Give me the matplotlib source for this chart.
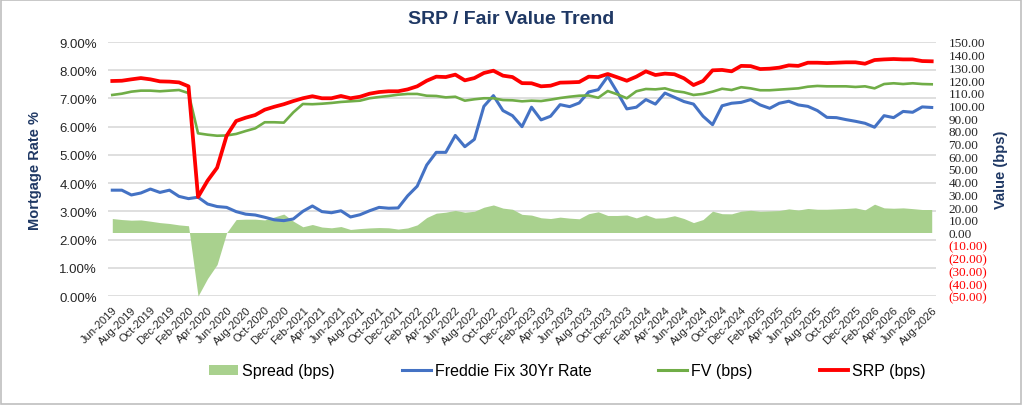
import matplotlib
matplotlib.use('Agg')
import matplotlib.pyplot as plt
from matplotlib.patches import Rectangle, Patch
from matplotlib.lines import Line2D
import pandas as pd

plt.rcParams['font.family'] = ['Liberation Sans', 'DejaVu Sans']

# monthly categories Jun-2019 .. Aug-2026
months = pd.date_range('2019-06-01', periods=87, freq='MS').strftime('%b-%Y').tolist()

# SRP (bps), right axis
srp = [119.3, 119.5, 120.6, 121.6, 120.6, 119.0, 118.8, 118.2, 115.1, 28.0,
       40.8, 51.0, 76.2, 87.8, 90.4, 92.5, 96.7, 99.0, 101.0, 103.5,
       105.7, 107.3, 105.7, 105.7, 107.5, 105.7, 106.9, 109.3, 110.6, 111.2,
       111.2, 112.7, 115.1, 119.5, 122.7, 122.4, 124.3, 119.8, 121.6, 125.6,
       127.4, 123.5, 122.4, 117.6, 117.5, 115.1, 115.6, 118.0, 118.2, 118.5,
       122.7, 122.4, 124.8, 122.2, 119.5, 122.7, 126.9, 124.0, 125.1, 124.6,
       121.4, 116.1, 119.3, 127.7, 128.0, 126.9, 131.2, 131.0, 128.7, 129.0,
       129.8, 131.6, 131.2, 133.7, 133.7, 133.4, 133.7, 134.0, 134.0, 132.9,
       135.8, 136.3, 136.6, 136.3, 136.3, 135.0, 134.8]

# FV (bps), right axis
fv = [108.3, 109.3, 110.9, 111.7, 111.7, 111.2, 111.7, 112.2, 109.8, 78.1,
      77.0, 76.2, 76.4, 77.6, 79.9, 82.0, 86.8, 86.8, 86.5, 94.6,
      101.2, 101.0, 101.4, 102.0, 102.8, 103.3, 103.8, 105.7, 106.7, 107.5,
      108.5, 109.1, 109.1, 107.7, 107.5, 106.4, 106.9, 103.8, 104.9, 105.7,
      105.7, 104.3, 104.1, 103.3, 103.8, 103.5, 104.6, 105.9, 106.9, 107.7,
      107.9, 106.1, 111.4, 108.8, 105.7, 111.2, 113.0, 112.7, 113.5, 111.4,
      110.4, 108.3, 109.1, 110.9, 113.2, 112.2, 114.4, 113.5, 112.0, 112.0,
      112.5, 113.0, 113.5, 114.8, 115.4, 115.1, 115.1, 115.1, 114.6, 115.1,
      113.5, 116.9, 117.5, 116.9, 117.5, 116.9, 116.7]

# Spread (bps), right axis
spread = [11.0, 10.2, 9.7, 9.9, 8.9, 7.8, 7.1, 6.0, 5.3, -50.0,
          -36.2, -25.2, -0.2, 10.2, 10.5, 10.5, 9.9, 12.2, 14.5, 8.9,
          4.5, 6.3, 4.3, 3.7, 4.7, 2.4, 3.1, 3.6, 3.9, 3.7,
          2.7, 3.6, 6.0, 11.8, 15.2, 16.0, 17.4, 16.0, 16.7, 19.9,
          21.7, 19.2, 18.3, 14.3, 13.7, 11.6, 11.0, 12.1, 11.3, 10.8,
          14.8, 16.3, 13.4, 13.4, 13.8, 11.5, 13.9, 11.3, 11.6, 13.2,
          11.0, 7.8, 10.2, 16.8, 14.8, 14.7, 16.8, 17.5, 16.7, 17.0,
          17.3, 18.6, 17.7, 18.9, 18.3, 18.3, 18.6, 18.9, 19.4, 17.8,
          22.3, 19.4, 19.1, 19.4, 18.8, 18.1, 18.1]

# Freddie Fix 30Yr rate (%), left axis
freddie = [3.75, 3.75, 3.58, 3.65, 3.79, 3.67, 3.75, 3.53, 3.45, 3.50,
           3.26, 3.17, 3.14, 2.99, 2.90, 2.87, 2.79, 2.70, 2.67, 2.73,
           3.00, 3.19, 2.99, 2.95, 3.02, 2.80, 2.88, 3.02, 3.14, 3.11,
           3.12, 3.55, 3.89, 4.64, 5.09, 5.09, 5.69, 5.29, 5.55, 6.72,
           7.10, 6.57, 6.39, 6.00, 6.69, 6.24, 6.37, 6.78, 6.71, 6.84,
           7.23, 7.31, 7.78, 7.22, 6.63, 6.69, 6.96, 6.80, 7.19, 7.04,
           6.89, 6.80, 6.37, 6.07, 6.74, 6.83, 6.86, 6.96, 6.77, 6.65,
           6.83, 6.90, 6.77, 6.72, 6.57, 6.33, 6.32, 6.25, 6.19, 6.12,
           5.98, 6.39, 6.32, 6.54, 6.51, 6.70, 6.68]

left_ticks = list(range(0, 10))
right_ticks = list(range(-50, 160, 10))

navy = '#1F3864'
c_red = '#FF0000'
c_green = '#70AD47'
c_blue = '#4472C4'
c_area = '#A9D18E'

x = list(range(len(months)))

fig = plt.figure(figsize=(10.23, 4.06), dpi=100)
fig.patches.append(Rectangle((0.001, 0.002), 0.997, 0.995, transform=fig.transFigure,
                             fill=False, edgecolor='#BFBFBF', linewidth=1.2))

rect = [108 / 1023, 1 - 297 / 406, (936 - 108) / 1023, (297 - 43) / 406]
ax = fig.add_axes(rect)
ax.set_xlim(-0.45, len(months) - 0.55)
ax.set_ylim(0, 9)
ax.set_yticks(left_ticks)
ax.set_yticklabels(['%.2f%%' % v for v in left_ticks], fontsize=9.5, color='#262626')
ax.yaxis.grid(True, color='#D9D9D9', linewidth=1.2)
ax.set_axisbelow(True)
ax.set_xticks(x[::2])
ax.set_xticklabels(months[::2], rotation=45, ha='right', rotation_mode='anchor',
                   fontsize=8, color='#262626')
ax.tick_params(axis='both', length=0)
ax.tick_params(axis='y', pad=8)
ax.tick_params(axis='x', pad=6)
for s in ax.spines.values():
    s.set_visible(False)
ax.set_ylabel('Mortgage Rate %', fontsize=10.5, fontweight='bold', color=navy, labelpad=12)

# right axis with spread area
ax2 = ax.twinx()
ax2.set_ylim(-50, 150)
ax2.set_yticks(right_ticks)
ax2.set_yticklabels([('%.2f' % v) if v >= 0 else '(%.2f)' % -v for v in right_ticks],
                    fontsize=9.5, family='Liberation Serif')
for lab, v in zip(ax2.get_yticklabels(), right_ticks):
    lab.set_color(c_red if v < 0 else '#262626')
ax2.tick_params(axis='y', length=0, pad=9)
for s in ax2.spines.values():
    s.set_visible(False)
ax2.fill_between(x, 0, spread, color=c_area, linewidth=0)
ax2.set_ylabel('Value (bps)', fontsize=10.5, fontweight='bold', color=navy,
               rotation=90, labelpad=5)

# rate line on left scale
ax3 = ax.twinx()
ax3.set_ylim(0, 9)
ax3.axis('off')
ax3.plot(x, freddie, color=c_blue, linewidth=2.2)

# FV and SRP on right scale
ax4 = ax.twinx()
ax4.set_ylim(-50, 150)
ax4.axis('off')
ax4.plot(x, fv, color=c_green, linewidth=1.9)
ax4.plot(x, srp, color=c_red, linewidth=2.7)

fig.text(0.5, 0.952, 'SRP / Fair Value Trend', ha='center', va='center',
         fontsize=14, fontweight='bold', color=navy)

handles = [Patch(facecolor=c_area, edgecolor='none'),
           Line2D([], [], color=c_blue, linewidth=2.2),
           Line2D([], [], color=c_green, linewidth=2.2),
           Line2D([], [], color=c_red, linewidth=2.8)]
labels = ['Spread (bps)', 'Freddie Fix 30Yr Rate', 'FV (bps)', 'SRP (bps)']
fig.legend(handles, labels, loc='center', bbox_to_anchor=(0.555, 0.084), ncol=4,
           frameon=False, fontsize=11.5, handlelength=1.8, handleheight=0.6,
           handletextpad=0.25, columnspacing=4.2)

fig.savefig('out.png', dpi=100)
